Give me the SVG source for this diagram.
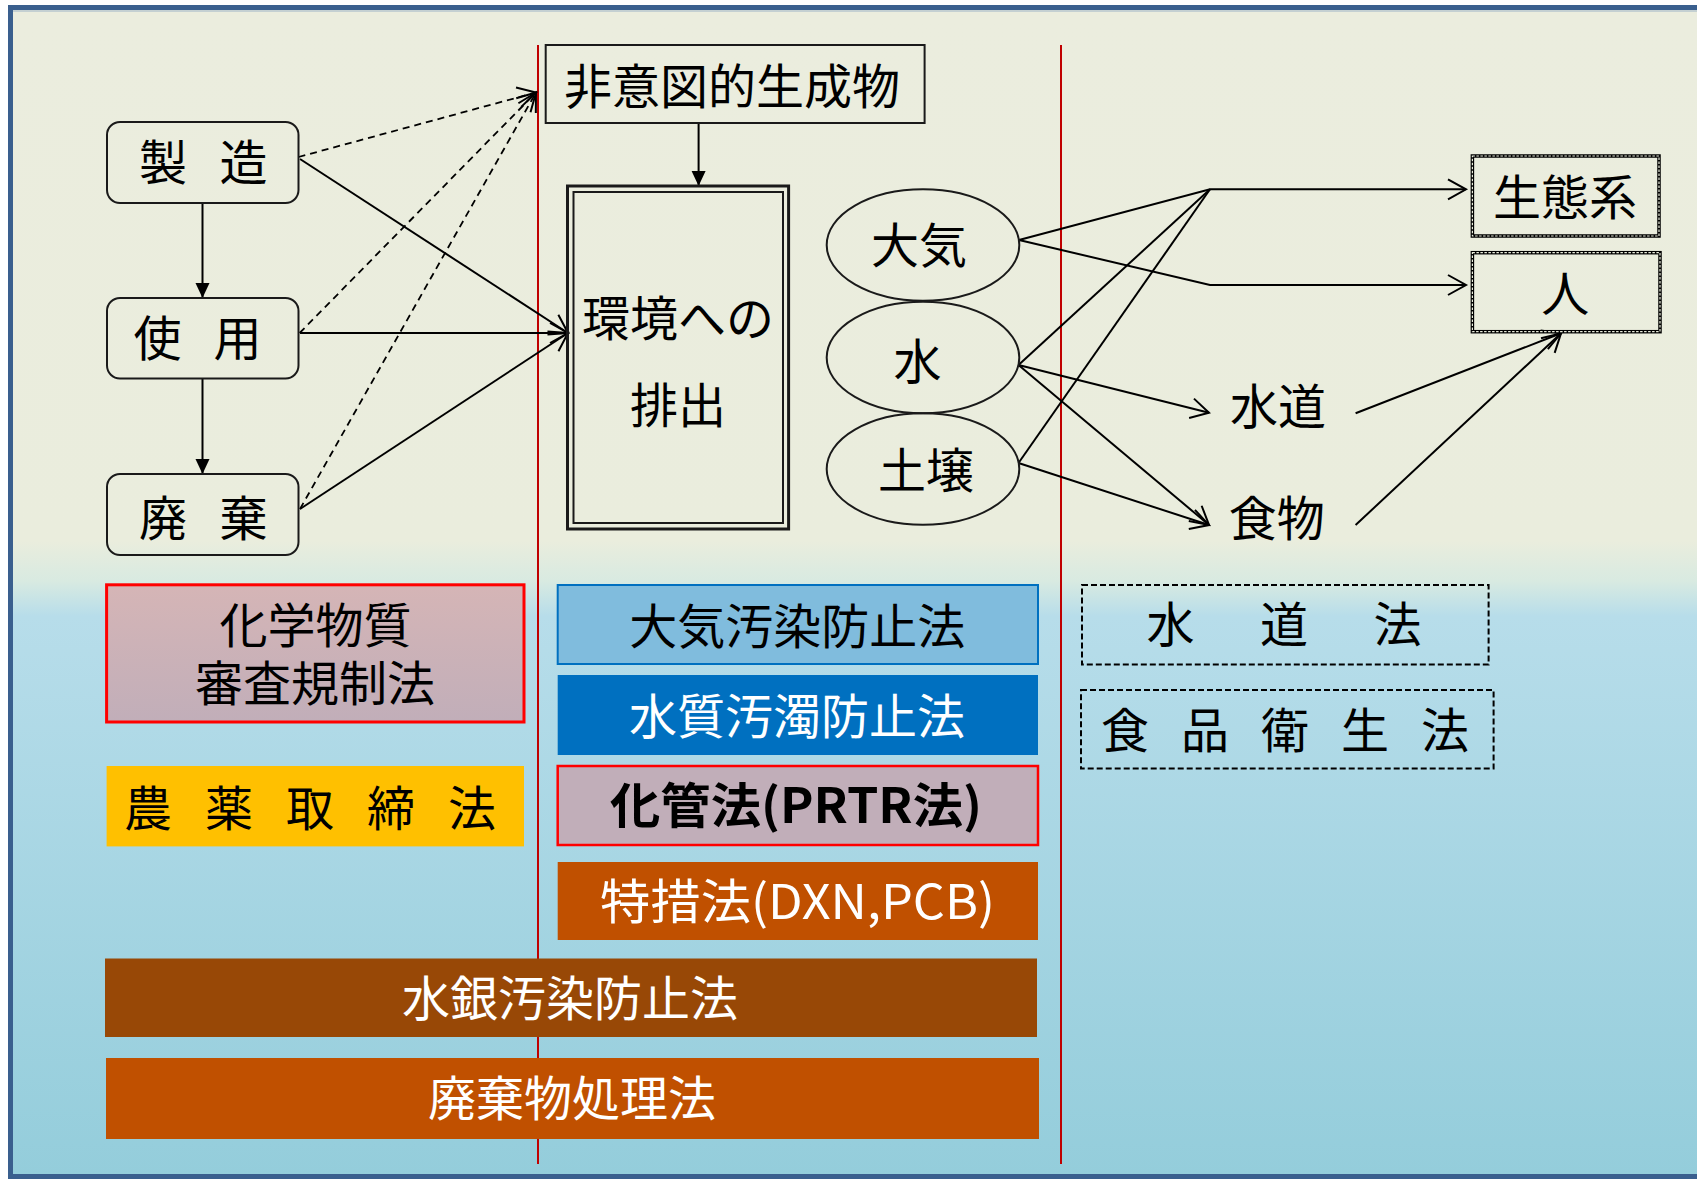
<svg xmlns="http://www.w3.org/2000/svg" width="1697" height="1179" viewBox="0 0 1697 1179">
<style>
text{font-family:"Noto Sans CJK JP","Noto Sans",sans-serif;font-size:48px;fill:#000}
.mid{text-anchor:middle}
.w{fill:#fff}
.node{fill:none;stroke:#1a1a1a;stroke-width:2}
.conn{fill:none;stroke:#000;stroke-width:2}
.dash{stroke-dasharray:7 5;stroke-width:1.8}
.law-dash{fill:none;stroke:#000;stroke-width:2;stroke-dasharray:6 3}
.red{stroke:#C00000;stroke-width:2}
.chain{fill:none;stroke:#000;stroke-width:3.5}
.chain-in{fill:none;stroke:#EAEDDD;stroke-width:1.2;stroke-dasharray:2.5 1.5}
</style>
<defs>
<linearGradient id="bg" gradientUnits="userSpaceOnUse" x1="0" y1="10" x2="0" y2="1176">
<stop offset="0" stop-color="#EBEDDE"/>
<stop offset="0.455" stop-color="#EAEDDD"/>
<stop offset="0.49" stop-color="#D8EAE1"/>
<stop offset="0.52" stop-color="#B7DDEA"/>
<stop offset="1" stop-color="#94CDDB"/>
</linearGradient>
<linearGradient id="pink" x1="0" y1="0" x2="0" y2="1">
<stop offset="0" stop-color="#D5B5B6"/>
<stop offset="1" stop-color="#C1AEB9"/>
</linearGradient>
<marker id="open" markerUnits="userSpaceOnUse" viewBox="-20 -12 22 24" markerWidth="22" markerHeight="24" refX="0" refY="0" orient="auto" overflow="visible">
<path d="M-18,-10 L0,0 L-18,10" fill="none" stroke="#000" stroke-width="2"/>
</marker>
<marker id="fill" markerUnits="userSpaceOnUse" viewBox="-16 -8 16 16" markerWidth="16" markerHeight="16" refX="0" refY="0" orient="auto" overflow="visible">
<path d="M-15,-7 L0,0 L-15,7 z" fill="#000"/>
</marker>
</defs>

<rect x="10.5" y="7.5" width="1700" height="1169" fill="url(#bg)" stroke="#3A5F8E" stroke-width="5"/>
<line x1="13" y1="11" x2="1697" y2="11" stroke="#9DB3C6" stroke-width="1"/>

<g id="dividers">
<line class="red" x1="538" y1="45" x2="538" y2="1164"/>
<line class="red" x1="1061" y1="45" x2="1061" y2="1164"/>
</g>

<g id="connectors">
<line class="conn" x1="202.5" y1="203" x2="202.5" y2="298" marker-end="url(#fill)"/>
<line class="conn" x1="202.5" y1="378.5" x2="202.5" y2="474" marker-end="url(#fill)"/>
<line class="conn" x1="698.6" y1="124" x2="698.6" y2="186" marker-end="url(#fill)"/>
<line class="conn dash" x1="298.5" y1="157" x2="536" y2="92.5" marker-end="url(#open)"/>
<line class="conn dash" x1="299.6" y1="333" x2="536" y2="92.5" marker-end="url(#open)"/>
<line class="conn dash" x1="300" y1="509" x2="536" y2="92.5" marker-end="url(#open)"/>
<line class="conn" x1="300" y1="159" x2="568" y2="333" marker-end="url(#open)"/>
<line class="conn" x1="300" y1="333" x2="568" y2="333" marker-end="url(#open)"/>
<line class="conn" x1="300" y1="509" x2="568" y2="333" marker-end="url(#open)"/>
<polyline class="conn" points="1019,240 1210,189.3 1466,189.3" marker-end="url(#open)"/>
<polyline class="conn" points="1019,240 1210,285 1466,285" marker-end="url(#open)"/>
<line class="conn" x1="1018.5" y1="365" x2="1210" y2="189.3"/>
<line class="conn" x1="1018.5" y1="463" x2="1210" y2="189.3"/>
<line class="conn" x1="1018.5" y1="365" x2="1209" y2="412.7" marker-end="url(#open)"/>
<line class="conn" x1="1018.5" y1="365" x2="1209" y2="525" marker-end="url(#open)"/>
<line class="conn" x1="1018.5" y1="463" x2="1209" y2="525" marker-end="url(#open)"/>
<line class="conn" x1="1355.6" y1="413.3" x2="1561" y2="333.3" marker-end="url(#open)"/>
<line class="conn" x1="1355.6" y1="525" x2="1561" y2="333.3" marker-end="url(#open)"/>
</g>

<g id="n-seizo">
<rect class="node" x="107" y="122" width="191.5" height="81" rx="13"/>
<text x="139" y="179.5" letter-spacing="32.5">製造</text>
</g>
<g id="n-shiyo">
<rect class="node" x="107" y="298" width="191.5" height="80.5" rx="13"/>
<text x="133.6" y="355.6" letter-spacing="32">使用</text>
</g>
<g id="n-haiki">
<rect class="node" x="107" y="474" width="191.5" height="81" rx="13"/>
<text x="139" y="536" letter-spacing="32.5">廃棄</text>
</g>
<g id="n-hiito">
<rect class="node" x="545.7" y="45" width="378.9" height="78"/>
<text class="mid" x="732" y="104">非意図的生成物</text>
</g>
<g id="n-haishutsu">
<rect fill="none" stroke="#1a1a1a" stroke-width="3" x="567.5" y="186" width="221.1" height="343"/>
<rect fill="none" stroke="#1a1a1a" stroke-width="2" x="573.5" y="192" width="209.5" height="331"/>
<text class="mid" x="678" y="335.5" font-size="46">環境への</text>
<text class="mid" x="678" y="422.5" font-size="46">排出</text>
</g>
<g id="n-taiki">
<ellipse class="node" cx="923" cy="245" rx="96.3" ry="55.7"/>
<text class="mid" x="919" y="263">大気</text>
</g>
<g id="n-mizu">
<ellipse class="node" cx="923" cy="357.5" rx="96.3" ry="55.8"/>
<text class="mid" x="917.5" y="379">水</text>
</g>
<g id="n-dojo">
<ellipse class="node" cx="923" cy="469" rx="96.3" ry="55.8"/>
<text class="mid" x="926" y="488">土壌</text>
</g>
<g id="n-seitaikei">
<rect class="chain" x="1472.4" y="156" width="186.6" height="80"/>
<rect class="chain-in" x="1472.4" y="156" width="186.6" height="80"/>
<text class="mid" x="1565" y="214.7">生態系</text>
</g>
<g id="n-hito">
<rect class="chain" x="1472.4" y="252.7" width="187.6" height="79"/>
<rect class="chain-in" x="1472.4" y="252.7" width="187.6" height="79"/>
<text class="mid" x="1565.3" y="310.5">人</text>
</g>
<g id="n-suido">
<text class="mid" x="1278" y="424">水道</text>
</g>
<g id="n-shokumotsu">
<text class="mid" x="1276.7" y="535.5">食物</text>
</g>

<g id="law-kashin">
<rect x="106.6" y="584.8" width="417.4" height="137.2" fill="url(#pink)" stroke="#FF0000" stroke-width="3"/>
<text class="mid" x="315.5" y="643">化学物質</text>
<text class="mid" x="315" y="701">審査規制法</text>
</g>
<g id="law-noyaku">
<rect x="106.6" y="766" width="417.4" height="80.4" fill="#FFC000"/>
<text x="124" y="825.5" letter-spacing="33">農薬取締法</text>
</g>
<g id="law-taiki">
<rect x="557.7" y="585" width="480.3" height="79" fill="#80BCDD" stroke="#0070C0" stroke-width="2"/>
<text class="mid" x="797.3" y="644">大気汚染防止法</text>
</g>
<g id="law-suishitsu">
<rect x="557.7" y="675" width="480.3" height="80" fill="#0070C0"/>
<text class="mid w" x="797" y="734">水質汚濁防止法</text>
</g>
<g id="law-kakan">
<rect x="557.7" y="766" width="480.3" height="79" fill="#C1AEB9" stroke="#FF0000" stroke-width="2.5"/>
<text class="mid" x="796" y="823" font-weight="bold" textLength="372" lengthAdjust="spacingAndGlyphs">化管法(PRTR法)</text>
</g>
<g id="law-tokuso">
<rect x="557.7" y="862" width="480.3" height="78" fill="#C05000"/>
<text class="mid w" x="797.5" y="918.5" textLength="395" lengthAdjust="spacingAndGlyphs">特措法(DXN,PCB)</text>
</g>
<g id="law-suigin">
<rect x="105" y="958.5" width="932" height="78.5" fill="#984806"/>
<text class="mid w" x="570" y="1016">水銀汚染防止法</text>
</g>
<g id="law-haikibutsu">
<rect x="106" y="1058" width="933" height="81" fill="#C05000"/>
<text class="mid w" x="572" y="1116">廃棄物処理法</text>
</g>
<g id="law-suidoho">
<rect class="law-dash" x="1082" y="585" width="406.6" height="79.6"/>
<text x="1146.6" y="642" letter-spacing="65.5">水道法</text>
</g>
<g id="law-shokuhin">
<rect class="law-dash" x="1081" y="690" width="412.6" height="78.5"/>
<text x="1101" y="748" letter-spacing="32">食品衛生法</text>
</g>
</svg>
